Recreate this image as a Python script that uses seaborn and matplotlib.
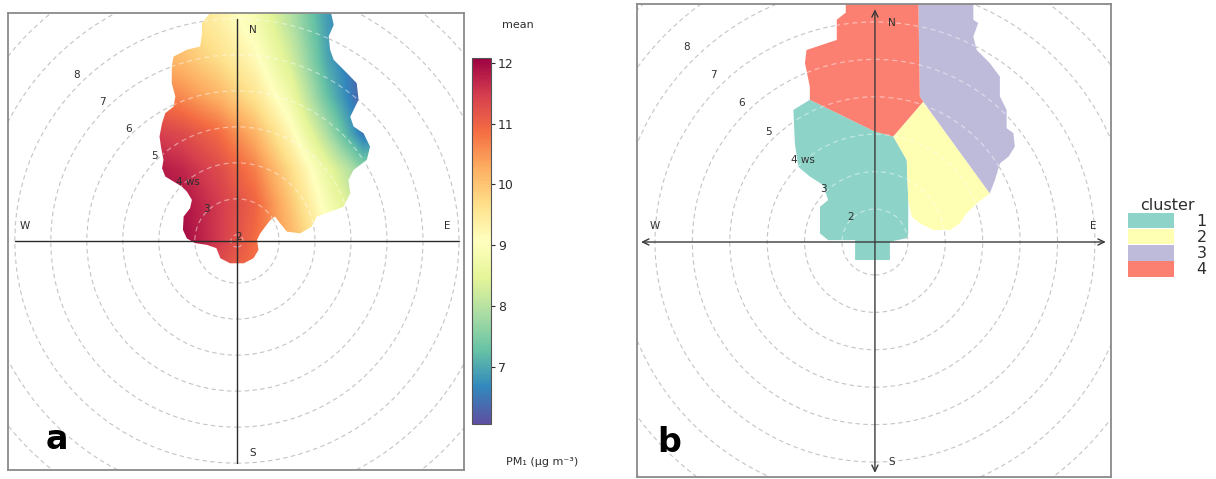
import numpy as np
import matplotlib
matplotlib.use("Agg")
import matplotlib.pyplot as plt
from matplotlib.patches import Polygon, Circle, Patch
import seaborn as sns

# ---- data (wind-speed plane, x = east, y = north) ----

# footprint of the polar plot in panel a
foot_u = [-0.97, -0.65, 2.59, 2.69, 2.55, 2.59, 2.69, 3.06, 3.33, 3.38, 3.15, 3.24, 3.52,
          3.70, 3.61, 3.24, 3.10, 3.15, 2.96, 2.59, 2.22, 2.08, 1.76, 1.39, 1.20, 1.06,
          0.93, 0.79, 0.65, 0.56, 0.60, 0.46, 0.19, -0.19, -0.46, -0.57, -0.83, -1.16,
          -1.39, -1.50, -1.48, -1.30, -1.25, -1.39, -1.53, -1.76, -1.99, -2.08, -2.04,
          -2.11, -2.15, -2.08, -1.99, -1.76, -1.71, -1.81, -1.81, -1.76, -1.39, -1.02, -0.97]
foot_v = [6.05, 6.45, 6.45, 6.00, 5.68, 5.31, 5.03, 4.66, 4.38, 3.92, 3.45, 3.18, 2.99,
          2.62, 2.25, 1.97, 1.69, 1.32, 0.95, 0.81, 0.68, 0.40, 0.21, 0.26, 0.49, 0.68,
          0.58, 0.40, 0.21, 0.03, -0.25, -0.48, -0.62, -0.62, -0.48, -0.20, -0.11, -0.06,
          0.07, 0.31, 0.68, 0.91, 1.14, 1.37, 1.51, 1.65, 1.79, 2.02, 2.25,
          2.62, 2.90, 3.27, 3.55, 3.73, 4.01, 4.38, 4.84, 5.12, 5.31, 5.40, 5.77]

# mean PM1 on a coarse grid
conc_x = [-2.5, -1.5, -0.5, 0.5, 1.5, 2.5, 3.5]
conc_y = [-1, 0, 1, 2, 3, 4, 5, 6, 7]
conc = [
    [12.0, 11.8, 11.2, 10.8, 10.0, 9.4, 8.8],
    [12.0, 12.0, 11.5, 10.9, 10.2, 9.3, 8.6],
    [12.0, 11.9, 11.5, 11.0, 10.0, 8.9, 8.0],
    [11.9, 11.7, 11.3, 10.7, 9.7, 8.6, 7.6],
    [11.5, 11.3, 10.9, 10.2, 9.2, 7.9, 6.5],
    [10.9, 10.6, 10.2, 9.6, 8.7, 7.3, 6.2],
    [10.3, 10.1, 9.7, 9.2, 8.3, 7.0, 6.2],
    [10.0, 9.8, 9.4, 8.9, 8.0, 6.9, 6.3],
    [9.9, 9.7, 9.3, 8.8, 7.9, 6.8, 6.3],
]
cbar_min, cbar_max = 6.06, 12.08
cbar_ticks = [7, 8, 9, 10, 11, 12]

# cluster regions for panel b
cl1_u = [0.0, 0.49, 0.85, 0.89, 0.89, 0.85, 0.40, 0.40, -0.53, -0.53, -1.25, -1.47,
         -1.47, -1.25, -1.38, -1.74, -2.05, -2.14, -2.18, -1.74]
cl1_v = [2.95, 2.82, 2.19, 1.12, 0.23, 0.10, 0.01, -0.48, -0.48, 0.05, 0.05, 0.23,
         0.94, 1.12, 1.52, 1.75, 2.01, 2.64, 3.53, 3.80]
cl2_u = [1.29, 3.07, 2.72, 2.45, 2.27, 2.01, 1.56, 1.20, 0.98, 0.89, 0.85, 0.49]
cl2_v = [3.75, 1.30, 1.03, 0.77, 0.50, 0.32, 0.32, 0.50, 0.68, 1.12, 2.19, 2.82]
cl3_u = [1.16, 2.63, 2.63, 2.76, 2.63, 2.72, 3.07, 3.34, 3.34, 3.52, 3.52, 3.70, 3.74,
         3.57, 3.34, 3.21, 3.07, 1.29, 1.20]
cl3_v = [6.45, 6.45, 5.94, 5.85, 5.49, 5.13, 4.78, 4.42, 3.89, 3.53, 3.04, 2.91, 2.55,
         2.28, 2.10, 1.66, 1.30, 3.75, 3.89]
cl4_u = [-0.78, -0.78, 1.16, 1.20, 1.29, 0.49, 0.0, -1.74, -1.74, -1.87, -1.83, -1.02, -1.02]
cl4_v = [6.13, 6.45, 6.45, 3.89, 3.75, 2.82, 2.95, 3.80, 4.15, 4.78, 5.13, 5.40, 5.94]
cluster_names = ["1", "2", "3", "4"]

ws_labels = [2, 3, 4, 5, 6, 7, 8]
ws_rings = list(range(2, 13))

# ---- style ----
sns.set_style("white")
plt.rcParams["font.family"] = ["DejaVu Sans"]
spectral = sns.color_palette("Spectral_r", as_cmap=True)
set3 = sns.color_palette("Set3", 4)

fig = plt.figure(figsize=(12.16, 4.79), dpi=100)
W, H = 1216, 479
ax_a = fig.add_axes([8 / W, (H - 470) / H, 456 / W, 457 / H])
ax_b = fig.add_axes([637 / W, (H - 477) / H, 474 / W, 473 / H])
cax = fig.add_axes([472 / W, (H - 424) / H, 19 / W, 366 / H])

ring_col = "#c4c4c4"
txt_col = "#2e2e2e"


def frame(ax):
    ax.set_xticks([])
    ax.set_yticks([])
    for s in ax.spines.values():
        s.set_color("#8a8a8a")
        s.set_linewidth(1.3)


def compass(ax):
    ax.text(0.45, 5.86, "N", fontsize=7.5, color=txt_col, ha="center", va="center")
    ax.text(0.45, -5.88, "S", fontsize=7.5, color=txt_col, ha="center", va="center")
    ax.text(-5.88, 0.42, "W", fontsize=7.5, color=txt_col, ha="center", va="center")
    ax.text(5.84, 0.42, "E", fontsize=7.5, color=txt_col, ha="center", va="center")


def rings(ax, offset, clips):
    # grey dashed rings on white, lighter dashes where they cross the filled area
    for ws in ws_rings:
        ax.add_patch(Circle((0, 0), ws - offset, fill=False, ls=(0, (4, 3)), lw=0.8,
                            color=ring_col, zorder=0.5))
        for clip in clips:
            c = Circle((0, 0), ws - offset, fill=False, ls=(0, (4, 3)), lw=0.9,
                       color="white", alpha=0.45, zorder=3)
            ax.add_patch(c)
            c.set_clip_path(clip)


# ---- panel a ----
frame(ax_a)
foot = Polygon(np.column_stack([foot_u, foot_v]), closed=True, facecolor="none",
               edgecolor="none", transform=ax_a.transData)
ax_a.add_patch(foot)
dx = (conc_x[1] - conc_x[0]) / 2
dy = (conc_y[1] - conc_y[0]) / 2
im = ax_a.imshow(np.array(conc), origin="lower", cmap=spectral, vmin=cbar_min, vmax=cbar_max,
                 interpolation="bilinear", aspect="auto", zorder=1,
                 extent=[conc_x[0] - dx, conc_x[-1] + dx, conc_y[0] - dy, conc_y[-1] + dy])
im.set_clip_path(foot)
ax_a.set_xlim(-6.36, 6.31)
ax_a.set_ylim(-6.36, 6.33)

rings(ax_a, 1.83, [foot])
ax_a.plot([-6.17, 6.17], [0, 0], color="#2b2b2b", lw=1.0, zorder=4)
ax_a.plot([0, 0], [-6.17, 6.17], color="#2b2b2b", lw=1.0, zorder=4)

ang = np.deg2rad(134)
for ws in ws_labels:
    r = (ws - 1.83) * 1.04
    if ws == 2:
        ax_a.text(0.05, 0.12, "2", fontsize=7.5, color=txt_col, ha="center", va="center", zorder=5)
    elif ws == 4:
        ax_a.text(r * np.cos(ang) - 0.12, r * np.sin(ang), "4 ws", fontsize=7.5, color=txt_col,
                  ha="left", va="center", zorder=5)
    else:
        ax_a.text(r * np.cos(ang), r * np.sin(ang), str(ws), fontsize=7.5, color=txt_col,
                  ha="center", va="center", zorder=5)
compass(ax_a)
ax_a.text(-5.0, -5.5, "a", fontsize=24, fontweight="bold", color="black",
          ha="center", va="center")

cb = fig.colorbar(im, cax=cax, ticks=cbar_ticks)
cb.outline.set_edgecolor("#555555")
cb.outline.set_linewidth(0.8)
cax.tick_params(labelsize=9, length=3, width=0.8, colors=txt_col, pad=2)
fig.text(518 / W, 1 - 25 / H, "mean", fontsize=8, color=txt_col, ha="center", va="center")
fig.text(542 / W, 1 - 462 / H, "PM\u2081 (\u00b5g m\u207b\u00b3)", fontsize=8, color=txt_col,
         ha="center", va="center")

# ---- panel b ----
frame(ax_b)
clips_b = []
for u, v, c in zip([cl1_u, cl2_u, cl3_u, cl4_u], [cl1_v, cl2_v, cl3_v, cl4_v], set3):
    patch = ax_b.fill(u, v, color=c, lw=0, zorder=1)[0]
    clips_b.append(patch)
ax_b.set_xlim(-6.36, 6.31)
ax_b.set_ylim(-6.28, 6.36)

rings(ax_b, 1.12, clips_b)
arrow = dict(arrowstyle="<->,head_length=0.45,head_width=0.22", color="#3a3a3a", lw=1.0,
             shrinkA=0, shrinkB=0)
ax_b.annotate("", xy=(6.17, 0), xytext=(-6.25, 0), arrowprops=arrow, zorder=4)
ax_b.annotate("", xy=(0, 6.22), xytext=(0, -6.17), arrowprops=arrow, zorder=4)

for ws in ws_labels:
    r = (ws - 1.12) * 1.055
    if ws == 4:
        ax_b.text(r * np.cos(ang) - 0.12, r * np.sin(ang), "4 ws", fontsize=7.5, color=txt_col,
                  ha="left", va="center", zorder=5)
    else:
        ax_b.text(r * np.cos(ang), r * np.sin(ang), str(ws), fontsize=7.5, color=txt_col,
                  ha="center", va="center", zorder=5)
compass(ax_b)
ax_b.text(-5.5, -5.35, "b", fontsize=24, fontweight="bold", color="black",
          ha="center", va="center")

handles = [Patch(facecolor=c, edgecolor="none") for c in set3]
leg = fig.legend(handles, cluster_names, title="cluster", loc="upper left",
                 bbox_to_anchor=(1128 / W, 1 - 198 / H), frameon=False, fontsize=11.5,
                 title_fontsize=11.5, handlelength=2.9, handleheight=1.1, labelspacing=0.0,
                 handletextpad=1.4, borderaxespad=0, borderpad=0)
for t in leg.get_texts():
    t.set_color(txt_col)
leg.get_title().set_color(txt_col)

fig.savefig("out.png", dpi=100)
